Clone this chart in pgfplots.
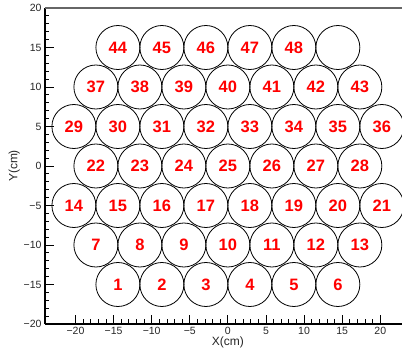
\documentclass[border=0pt]{standalone}
\usepackage{pgfplots}
\pgfplotsset{compat=1.18}
\usepackage{pgfplotstable}
\usepackage{fontspec}
\setmainfont{Liberation Sans}
\pgfplotstableread{
x y lab
-14.434 -15 1
-8.660 -15 2
-2.887 -15 3
2.887 -15 4
8.660 -15 5
14.434 -15 6
-17.321 -10 7
-11.547 -10 8
-5.774 -10 9
0 -10 10
5.774 -10 11
11.547 -10 12
17.321 -10 13
-20.207 -5 14
-14.434 -5 15
-8.660 -5 16
-2.887 -5 17
2.887 -5 18
8.660 -5 19
14.434 -5 20
20.207 -5 21
-17.321 0 22
-11.547 0 23
-5.774 0 24
0 0 25
5.774 0 26
11.547 0 27
17.321 0 28
-20.207 5 29
-14.434 5 30
-8.660 5 31
-2.887 5 32
2.887 5 33
8.660 5 34
14.434 5 35
20.207 5 36
-17.321 10 37
-11.547 10 38
-5.774 10 39
0 10 40
5.774 10 41
11.547 10 42
17.321 10 43
-14.434 15 44
-8.660 15 45
-2.887 15 46
2.887 15 47
8.660 15 48
}\circles
\begin{document}
\begin{tikzpicture}
\begin{axis}[
  name=ax,
  x=7.62pt, y=7.9pt,
  xmin=-24, xmax=24, ymin=-20, ymax=20,
  axis x line*=bottom, axis y line*=left,
  axis line style={line width=1.1pt, black},
  clip=false,
  xtick={-20,-15,...,20},
  xticklabels={−20,−15,−10,−5,0,5,10,15,20},
  ytick={-20,-15,...,20},
  yticklabels={−20,−15,−10,−5,0,5,10,15,20},
  minor tick num=4,
  tick align=inside,
  major tick length=9pt,
  minor tick length=4.5pt,
  tick style={line width=0.8pt, black},
  ticklabel style={font=\fontsize{10.5}{11}\selectfont, text=black!85},
  xlabel={X(cm)}, ylabel={Y(cm)},
  label style={font=\fontsize{12}{13}\selectfont, text=black!85},
  xlabel style={yshift=5pt},
  ylabel style={yshift=-3pt},
]
\addplot[only marks, mark=o, mark size=22pt, mark options={line width=0.8pt, draw=black},
  nodes near coords, point meta=explicit symbolic,
  every node near coord/.append style={anchor=center, text height=11.6pt, text depth=0pt, text=red, font=\bfseries\fontsize{16.5}{17}\selectfont}]
  table[x=x, y=y, meta=lab] {\circles};
\addplot[only marks, mark=o, mark size=22pt, mark options={line width=0.8pt, draw=black}]
  coordinates {(14.434,15)};
\draw[line width=1.3pt, black!60] (rel axis cs:0,1) -- (rel axis cs:1,1);
\end{axis}
\pgfresetboundingbox
\path ([xshift=-45pt, yshift=-32pt]ax.south west) rectangle ([xshift=357pt, yshift=8pt]ax.north west);
\end{tikzpicture}
\end{document}
